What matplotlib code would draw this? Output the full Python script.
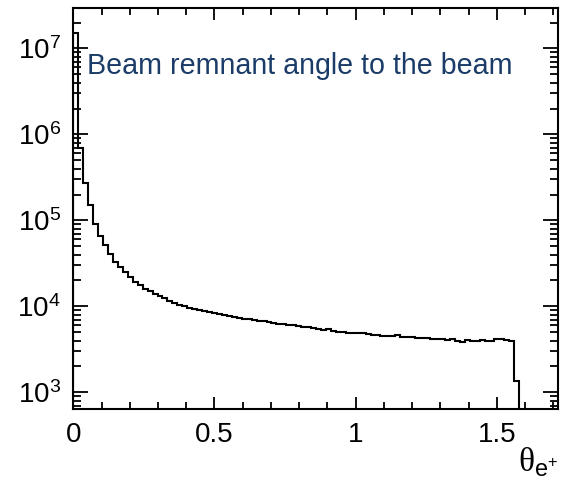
import numpy as np
import matplotlib
matplotlib.use("Agg")
import matplotlib.pyplot as plt
from matplotlib.ticker import LogLocator, MultipleLocator, NullFormatter

plt.rcParams['font.family'] = ['Liberation Sans', 'DejaVu Sans']
plt.rcParams['mathtext.fontset'] = 'custom'
plt.rcParams['mathtext.rm'] = 'Liberation Sans'
plt.rcParams['mathtext.it'] = 'Liberation Sans:italic'
plt.rcParams['mathtext.sf'] = 'Liberation Serif'
plt.rcParams['mathtext.default'] = 'regular'

# histogram of beam remnant angle (rad), 1 bin ~ 1 degree
BIN_WIDTH = 0.01755
counts = [
    1.53e7, 6.9e5, 2.7e5, 1.5e5, 9.1e4, 6.6e4, 5.15e4, 4.1e4, 3.3e4, 2.88e4,
    2.52e4, 2.2e4, 1.92e4, 1.76e4, 1.61e4, 1.51e4, 1.40e4, 1.32e4, 1.25e4, 1.17e4,
    1.10e4, 1.05e4, 1.01e4, 9.7e3, 9.4e3, 9.1e3, 8.8e3, 8.6e3, 8.4e3, 8.1e3,
    7.9e3, 7.7e3, 7.6e3, 7.4e3, 7.2e3, 7.1e3, 6.9e3, 6.8e3, 6.7e3, 6.5e3,
    6.4e3, 6.3e3, 6.2e3, 6.1e3, 6.0e3, 5.9e3, 5.8e3, 5.7e3, 5.6e3, 5.4e3,
    5.3e3, 5.4e3, 5.2e3, 5.1e3, 5.0e3, 4.9e3, 4.9e3, 4.9e3, 4.85e3, 4.8e3,
    4.7e3, 4.6e3, 4.55e3, 4.5e3, 4.5e3, 4.6e3, 4.4e3, 4.45e3, 4.35e3, 4.3e3,
    4.3e3, 4.25e3, 4.2e3, 4.2e3, 4.15e3, 4.1e3, 4.2e3, 4.0e3, 3.9e3, 4.05e3,
    4.0e3, 4.0e3, 4.1e3, 4.0e3, 4.0e3, 4.15e3, 4.15e3, 4.1e3, 4.0e3, 1.35e3,
]
edges = np.arange(len(counts) + 1) * BIN_WIDTH

title = "Beam remnant angle to the beam"
xtitle = r'$\mathsf{\theta}_{e^{+}}$'

fig = plt.figure(figsize=(5.74, 4.86), dpi=100)
ax = fig.add_axes([0.1277, 0.1584, 0.845, 0.8251])

ax.stairs(counts, edges, baseline=1, color='black', linewidth=1.5)

ax.set_yscale('log')
ax.set_xlim(0, 1.718)
ax.set_ylim(640, 2.95e7)

ax.xaxis.set_major_locator(MultipleLocator(0.5))
ax.xaxis.set_minor_locator(MultipleLocator(0.1))
ax.set_xticks([0, 0.5, 1, 1.5])
ax.set_xticklabels(['0', '0.5', '1', '1.5'])
ax.yaxis.set_major_locator(LogLocator(base=10, numticks=10))
ax.yaxis.set_minor_locator(LogLocator(base=10, subs=np.arange(2, 10), numticks=20))
ax.yaxis.set_minor_formatter(NullFormatter())

ax.tick_params(which='both', direction='in', top=True, right=True, width=1.3,
               labelsize=20, colors='black')
ax.tick_params(axis='x', which='major', length=8.6, pad=9)
ax.tick_params(axis='x', which='minor', length=5)
ax.tick_params(axis='y', which='major', length=10.8, pad=9)
ax.tick_params(axis='y', which='minor', length=5.8)
for s in ax.spines.values():
    s.set_linewidth(1.5)

ax.text(0.028, 0.835, title, transform=ax.transAxes, fontsize=20.6,
        color='#1b3c68', ha='left', va='baseline')

fig.text(0.972, 0.03, xtitle, fontsize=24, ha='right', va='baseline')

fig.savefig("out.png", dpi=100)
